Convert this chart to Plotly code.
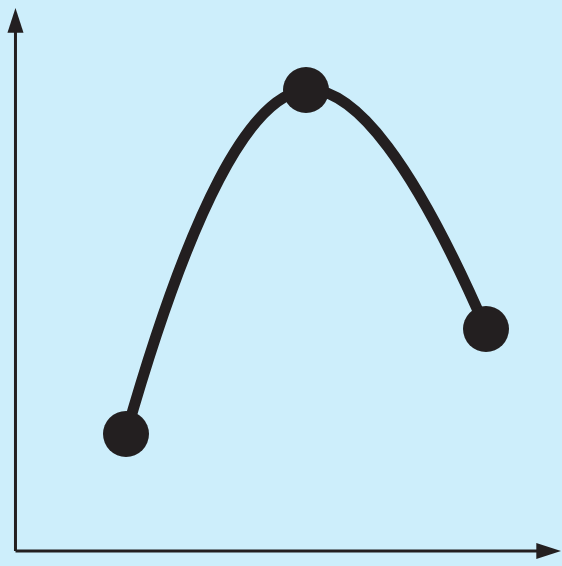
import plotly.graph_objects as go

# data points (arbitrary units)
x_vals = [1, 2, 3]
y_vals = [1.17, 4.61, 2.22]

ink = "#231F20"
bg = "#CDEEFB"

# axis origin and arrow tips (data units)
x0, y0 = 0.386, 0.0
y_top = 5.43
x_right = 3.4167

fig = go.Figure()

# axes lines
fig.add_trace(go.Scatter(x=[x0, x0], y=[y0, y_top - 0.15], mode="lines",
                         line=dict(color=ink, width=3), hoverinfo="skip", showlegend=False))
fig.add_trace(go.Scatter(x=[x0, x_right - 0.08], y=[y0, y0], mode="lines",
                         line=dict(color=ink, width=3), hoverinfo="skip", showlegend=False))
# arrow heads
fig.add_trace(go.Scatter(x=[x0, x_right], y=[y_top, y0], mode="markers",
                         marker=dict(symbol="arrow", size=26, angle=[0, 90], color=ink,
                                     line=dict(width=0)),
                         cliponaxis=False, hoverinfo="skip", showlegend=False))

# curve
fig.add_trace(go.Scatter(x=x_vals, y=y_vals, mode="lines+markers",
                         line=dict(color=ink, width=11, shape="spline", smoothing=1.3),
                         marker=dict(size=46, color=ink),
                         showlegend=False))

fig.update_layout(
    width=562, height=566,
    margin=dict(l=0, r=0, t=0, b=0),
    paper_bgcolor=bg, plot_bgcolor=bg,
    xaxis=dict(range=[0.3, 0.3 + 562 / 180], visible=False, fixedrange=True),
    yaxis=dict(range=[-0.15, 5.51], visible=False, fixedrange=True),
)

fig.write_html("out.html", config={"displayModeBar": False},
               post_script="document.body.style.margin='0';document.body.style.background='%s';" % bg)
